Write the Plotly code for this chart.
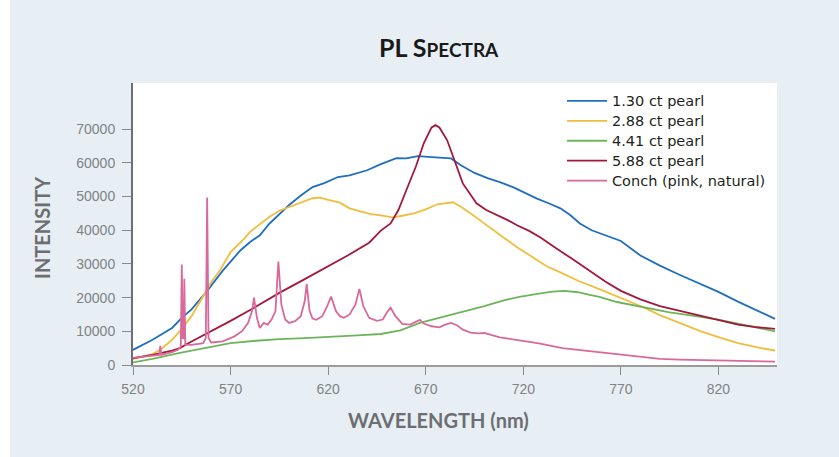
import plotly.graph_objects as go

# Photoluminescence spectra: wavelength (nm) vs. intensity (counts)
wl_130 = [520, 530, 540, 545, 550, 558, 566, 575, 580, 585, 590, 600, 606, 612, 618, 625, 631,
          640, 647, 655, 660, 666, 675, 683, 688, 695, 702, 708, 715, 721, 727, 733, 739, 744,
          749, 755, 762, 770, 780, 790, 800, 811, 820, 830, 840, 849]
int_130 = [4500, 7500, 11000, 14000, 16500, 22000, 28000, 34000, 36500, 38500, 42000, 47500,
           50300, 52800, 54000, 55800, 56300, 57800, 59600, 61400, 61300, 62000, 61600, 61300,
           59300, 57000, 55400, 54300, 52700, 51000, 49400, 48000, 46500, 44500, 42000, 40000,
           38400, 36800, 32500, 29500, 26800, 24100, 21700, 18800, 16000, 13700]

wl_288 = [520, 530, 535, 540, 545, 550, 555, 560, 565, 570, 577, 580, 585, 590, 595, 602, 608,
          612, 616, 620, 626, 631, 637, 642, 647, 653, 658, 664, 670, 676, 684, 688, 693, 698,
          703, 710, 717, 725, 732, 739, 748, 759, 770, 780, 790, 800, 811, 820, 830, 840, 849]
int_288 = [1800, 3200, 5000, 7500, 10700, 14500, 19500, 24500, 28500, 33500, 37500, 39500,
           41800, 44000, 45800, 47400, 48800, 49500, 49700, 49000, 48200, 46500, 45500, 44800,
           44400, 43800, 44300, 45000, 46200, 47700, 48300, 47000, 45000, 42800, 40800, 37800,
           34900, 31800, 29300, 27500, 25000, 22500, 20000, 17500, 14800, 12400, 10000, 8300,
           6500, 5200, 4300]

wl_441 = [520, 530, 544, 557, 570, 583, 595, 608, 621, 635, 647, 657, 667, 677, 688, 700, 710,
          718, 728, 735, 741, 748, 754, 759, 768, 776, 785, 795, 805, 811, 820, 830, 840, 849]
int_441 = [800, 1800, 3600, 5000, 6500, 7200, 7700, 8000, 8300, 8800, 9200, 10300, 12500,
           14000, 15500, 17500, 19200, 20200, 21200, 21800, 22000, 21600, 20800, 20200, 18700,
           17800, 16700, 15600, 14800, 14300, 13500, 12300, 11000, 10000]

wl_588 = [520, 530, 540, 544, 550, 560, 570, 580, 595, 608, 621, 630, 641, 647, 652, 656, 660,
          665, 669, 673, 675, 677, 681, 685, 689, 693, 696, 701, 707, 712, 717, 723, 729, 733,
          737, 745, 755, 762, 770, 780, 790, 800, 811, 820, 830, 840, 849]
int_588 = [2000, 3000, 4300, 5000, 7000, 10000, 13100, 16300, 21400, 25500, 29500, 32500,
           36300, 39900, 42000, 46000, 51800, 59000, 65800, 70500, 71200, 70500, 66700, 60000,
           53900, 50500, 48000, 46000, 44400, 43000, 41400, 39800, 37800, 36300, 34600, 31500,
           27500, 24800, 22000, 19500, 17500, 16100, 14500, 13300, 12000, 11200, 10700]

wl_conch = [520, 528, 533.5, 534, 534.5, 540, 543, 544.5, 545, 545.5, 546, 546.3, 546.8, 550,
            556, 557.3, 558, 558.7, 560, 566, 572, 576, 579, 581, 582, 583.5, 585, 587, 589,
            591, 593, 594.5, 596, 598, 600, 603, 606, 608, 609, 610.5, 612, 614, 617, 619.5,
            621.5, 624, 626, 628, 631, 634, 636, 638, 641, 645, 648, 650, 652, 654.5, 658, 662,
            665, 667, 669, 673, 677, 680, 683, 686, 689, 693, 697, 700, 703, 708, 718, 728,
            740, 759, 770, 780, 790, 800, 820, 849]
int_conch = [2100, 2600, 3000, 5700, 3000, 3800, 4500, 5500, 29800, 8000, 8000, 25600, 6000,
             6000, 6500, 8000, 49700, 8000, 6700, 7000, 8500, 10100, 12500, 16000, 20000, 14000,
             11000, 12500, 12000, 13500, 16000, 30700, 18000, 13500, 12500, 13000, 14500, 19000,
             24100, 16000, 13800, 13400, 14500, 17500, 20300, 16000, 14500, 14000, 15000, 18000,
             22600, 17500, 14000, 13100, 13500, 15500, 17000, 14500, 12200, 12000, 12800, 13400,
             12300, 11500, 11200, 12000, 12500, 11800, 10500, 9600, 9400, 9500, 9000, 8200, 7300,
             6400, 5000, 3800, 3000, 2300, 1800, 1600, 1300, 1000]

series = [
    ("1.30 ct pearl", wl_130, int_130, "#1f6ec2"),
    ("2.88 ct pearl", wl_288, int_288, "#f1bd3c"),
    ("4.41 ct pearl", wl_441, int_441, "#6cb55a"),
    ("5.88 ct pearl", wl_588, int_588, "#a3183b"),
    ("Conch (pink, natural)", wl_conch, int_conch, "#d9689b"),
]

x_ticks = [520, 570, 620, 670, 720, 770, 820]
y_ticks = [0, 10000, 20000, 30000, 40000, 50000, 60000, 70000]
y_tick_text = [str(v) for v in y_ticks]

fig = go.Figure()
for name, xs, ys, col in series:
    fig.add_trace(go.Scatter(x=xs, y=ys, mode="lines",
                             name=f"<span style='font-size:14.5px'>{name}</span>",
                             line=dict(color=col, width=1.8)))

L, R, T, B = 133, 62, 83, 92
W, H = 839, 457
pw, ph = W - L - R, H - T - B


def px_x(p):
    return (p - L) / pw


def px_y(p):
    return (H - B - p) / ph


tick_font = dict(family="Liberation Sans, Arial, sans-serif", size=14, color="#808285")
title_font = "Lato, sans-serif"

fig.update_layout(
    width=W, height=H,
    margin=dict(l=L, r=R, t=T, b=B),
    paper_bgcolor="#e8eff4",
    plot_bgcolor="#ffffff",
    showlegend=True,
    legend=dict(x=px_x(562), y=px_y(86), xanchor="left", yanchor="top", itemwidth=40,
                bgcolor="rgba(0,0,0,0)",
                font=dict(family="DejaVu Sans, sans-serif", size=13, color="#231f20")),
    xaxis=dict(range=[520, 850], tickvals=x_ticks, ticks="outside", ticklen=8,
               tickcolor="#8a8a8a", tickwidth=1.2, showgrid=False, zeroline=False,
               showline=True, linecolor="#9b9b9b", linewidth=1.5, tickfont=tick_font,
               ticklabelstandoff=2),
    yaxis=dict(range=[0, 83700], tickvals=y_ticks, ticktext=y_tick_text, ticks="outside",
               ticklen=9, tickcolor="#8a8a8a", tickwidth=1.2, showgrid=False,
               zeroline=False, showline=True, linecolor="#6d6e71", linewidth=2,
               tickfont=tick_font, ticklabelstandoff=4),
    shapes=[dict(type="rect", xref="paper", yref="paper", x0=px_x(0), x1=px_x(10),
                 y0=px_y(H), y1=px_y(0), fillcolor="#ffffff", line=dict(width=0),
                 layer="below")],
    annotations=[
        dict(text="<b>PL S<span style='font-size:19px'>PECTRA</span></b>", xref="paper",
             yref="paper", x=px_x(439), y=px_y(47), xanchor="center", yanchor="middle",
             showarrow=False, font=dict(family=title_font, size=25, color="#1a1a1a")),
        dict(text="<b>WAVELENGTH (nm)</b>", xref="paper", yref="paper", x=px_x(438),
             y=px_y(420), xanchor="center", yanchor="middle", showarrow=False,
             font=dict(family=title_font, size=20, color="#6d6e71")),
        dict(text="<b>INTENSITY</b>", xref="paper", yref="paper", x=px_x(42),
             y=px_y(228), xanchor="center", yanchor="middle", showarrow=False,
             textangle=-90, font=dict(family=title_font, size=20, color="#6d6e71")),
    ],
)

fig.write_html("out.html")
